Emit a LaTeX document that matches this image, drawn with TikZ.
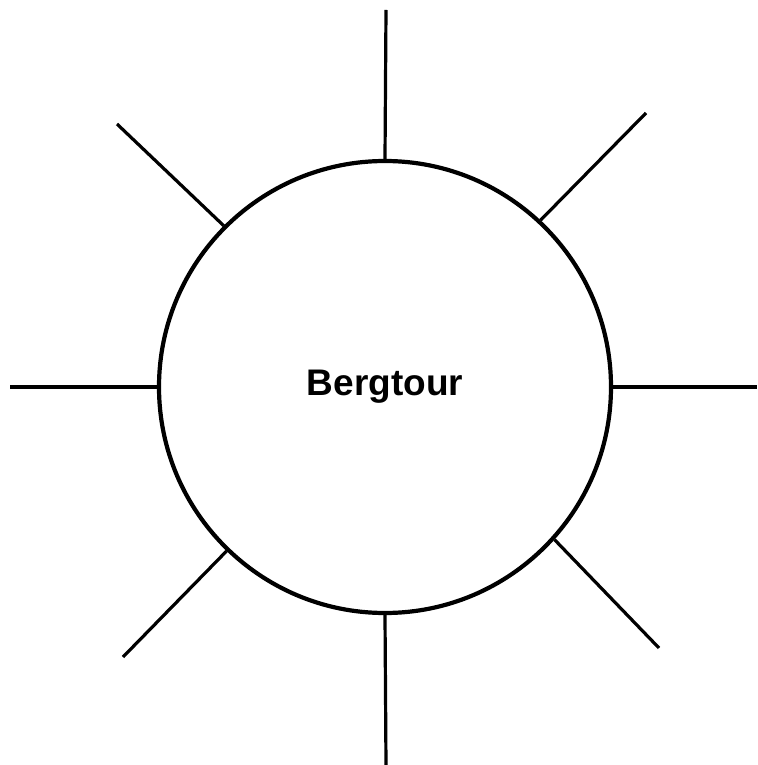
\documentclass[tikz,border=0pt]{standalone}
\usepackage{fontspec}
\setmainfont{Liberation Sans}
\usepackage{tikz}

\begin{document}
\begin{tikzpicture}[x=1pt,y=1pt,ray/.style={line width=3.2pt},hub/.style={circle,draw,line width=4.2pt,minimum size=452pt,inner sep=0pt,font=\bfseries\fontsize{37}{40}\selectfont}]
\useasboundingbox (-385,-378) rectangle (372,387);
\node[hub] (tour) at (0,0) {Bergtour};
\foreach \a/\x/\y/\n in %
{90/1/377/n,47.5/261/274/ne,0/372/0/e,-42.7/274/-261/se,-90/1/-378/s,226.4/-262/-270/sw,180/-375/0/w,135.7/-268/263/nw} {
   \coordinate (\n) at (\x,\y);
   \draw[ray] (tour.\a) -- (\n);
}
\end{tikzpicture}
\end{document}
